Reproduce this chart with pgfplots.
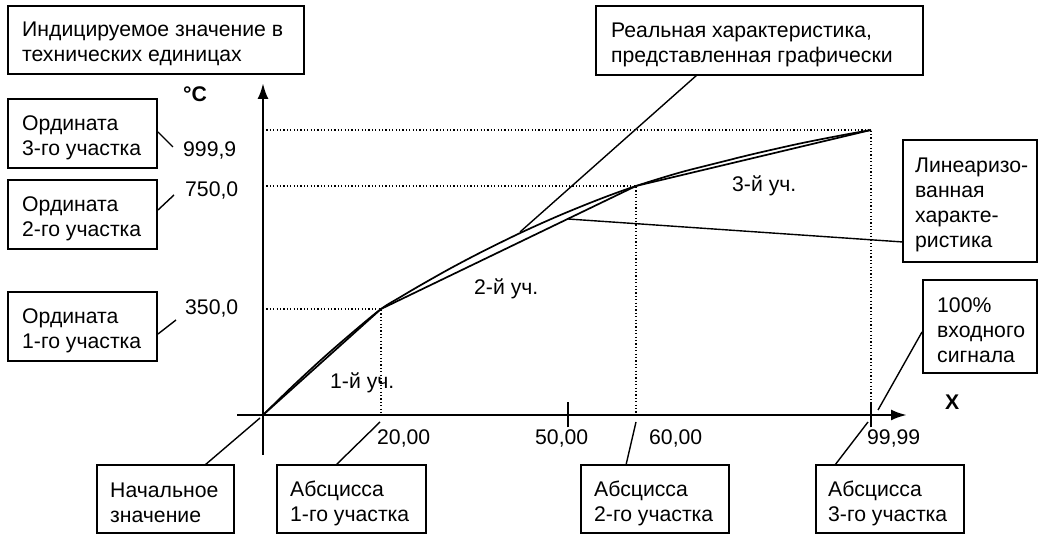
\documentclass[border=0pt]{standalone}
\usepackage{fontspec}
\setmainfont{Liberation Sans}
\usepackage{pgfplots}
\pgfplotsset{compat=1.18}
\usetikzlibrary{arrows.meta}

\begin{document}
\begin{tikzpicture}[font=\fontsize{21.2}{25}\selectfont]
\begin{axis}[
  x=1pt, y=1pt,
  xmin=-26, xmax=644, ymin=-40, ymax=332,
  axis lines=middle,
  axis line style={line width=2.6pt, -{Latex[length=16pt,width=11pt]}},
  xtick={305,608}, xticklabels={,},
  ytick=\empty,
  major tick length=25pt,
  tick align=center,
  xtick style={line width=2pt, black},
  clip=false,
]
% real characteristic (smooth)
\addplot[line width=1.7pt, smooth, tension=0.5] coordinates {
 (0,0) (29,28.2) (59,56) (89,82.1) (118,106) (137,117.7) (157,129.5)
 (187,146.4) (217,162.2) (257,181.9) (297,199.8) (337,216) (373,229)
 (417,242.5) (457,252.7) (490,260.9) (537,271.5) (577,279.4) (608,285)};
% linearised characteristic
\addplot[line width=1.7pt] coordinates {(0,0) (118,106) (373,229) (608,285)};
% dotted guides
\addplot[line width=1.2pt, dash pattern=on 1.2pt off 2.2pt] coordinates {(0,285) (608,285) (608,0)};
\addplot[line width=1.2pt, dash pattern=on 1.2pt off 2.2pt] coordinates {(0,229) (373,229) (373,0)};
\addplot[line width=1.2pt, dash pattern=on 1.2pt off 2.2pt] coordinates {(0,106) (118,106) (118,0)};
\coordinate (O) at (axis cs:0,0);
\end{axis}

\begin{scope}[x=1pt, y=-1pt, shift={(O)}, shift={(-263,-415)}]
  \tikzset{box/.style={line width=1.6pt}, lead/.style={line width=1.4pt},
           txt/.style={anchor=west, align=left, inner sep=0pt, yshift=-4pt},
           lab/.style={anchor=base west, inner sep=0pt}}
  % boxes
  \draw[box] (8,6) rectangle (304,74);
  \node[txt] at (22,40) {Индицируемое значение в\\технических единицах};
  \draw[box] (8,99) rectangle (157,168);
  \node[txt] at (22,133.5) {Ордината\\3-го участка};
  \draw[box] (8,180) rectangle (157,249);
  \node[txt] at (22,214.5) {Ордината\\2-го участка};
  \draw[box] (8,292) rectangle (157,361);
  \node[txt] at (22,326.5) {Ордината\\1-го участка};
  \draw[box] (97,465) rectangle (234,533);
  \node[txt] at (110,499) {Начальное\\значение};
  \draw[box] (277,465) rectangle (426,533);
  \node[txt] at (290,499) {Абсцисса\\1-го участка};
  \draw[box] (581,465) rectangle (729,533);
  \node[txt] at (594,499) {Абсцисса\\2-го участка};
  \draw[box] (816,465) rectangle (964,533);
  \node[txt] at (828,499) {Абсцисса\\3-го участка};
  \draw[box] (596,6) rectangle (923,75);
  \node[txt] at (611,40.5) {Реальная характеристика,\\представленная графически};
  \draw[box] (903,140) rectangle (1037,262);
  \node[txt] at (915,201) {Линеаризо-\\ванная\\характе-\\ристика};
  \draw[box] (923,280) rectangle (1037,373);
  \node[txt] at (937,326.5) {100\%\\входного\\сигнала};
  % leader lines
  \draw[lead] (158,132) -- (173,147);
  \draw[lead] (158,210) -- (174,195);
  \draw[lead] (158,334) -- (176,320);
  \draw[lead] (205,465) -- (260,418);
  \draw[lead] (336,465) -- (380,422);
  \draw[lead] (626,465) -- (636,422);
  \draw[lead] (835,465) -- (868,422);
  \draw[lead] (697,75) -- (520,232);
  \draw[lead] (903,242) -- (568,219);
  \draw[lead] (922,332) -- (878,410);
  % value labels
  \node[lab] at (183,157) {999,9};
  \node[lab] at (185,197) {750,0};
  \node[lab] at (185,315) {350,0};
  \node[lab] at (377,445) {20,00};
  \node[lab] at (535,445) {50,00};
  \node[lab] at (649,445) {60,00};
  \node[lab] at (867,445) {99,99};
  \node[lab] at (183,102) {\textbf{°C}};
  \node[lab] at (945,410) {\textbf{X}};
  \node[lab] at (330,389) {1-й уч.};
  \node[lab] at (474,295) {2-й уч.};
  \node[lab] at (732,192) {3-й уч.};
  \pgfresetboundingbox
  \path (0,0) rectangle (1039,534);
\end{scope}
\end{tikzpicture}
\end{document}
